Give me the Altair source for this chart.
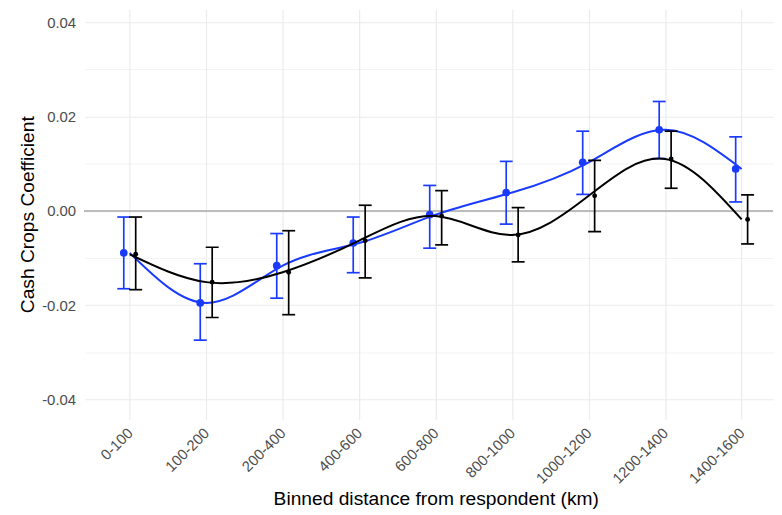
import altair as alt
import pandas as pd

categories = ["0-100", "100-200", "200-400", "400-600", "600-800",
              "800-1000", "1000-1200", "1200-1400", "1400-1600"]

blue_est = [-0.0089, -0.0195, -0.0116, -0.0068, -0.0008, 0.0039, 0.0103, 0.0172, 0.0089]
blue_lo = [-0.0165, -0.0274, -0.0185, -0.0131, -0.0079, -0.0028, 0.0035, 0.0111, 0.0019]
blue_hi = [-0.0013, -0.0112, -0.0048, -0.0013, 0.0054, 0.0105, 0.0169, 0.0232, 0.0157]

black_est = [-0.0092, -0.0151, -0.0130, -0.0063, -0.0011, -0.0051, 0.0032, 0.0110, -0.0018]
black_lo = [-0.0167, -0.0226, -0.0220, -0.0142, -0.0072, -0.0108, -0.0044, 0.0048, -0.0070]
black_hi = [-0.0013, -0.0077, -0.0042, 0.0012, 0.0043, 0.0007, 0.0107, 0.0169, 0.0034]

y_ticks = [-0.04, -0.03, -0.02, -0.01, 0.0, 0.01, 0.02, 0.03, 0.04]

rows = []
for i, c in enumerate(categories):
    rows.append({"bin": c, "series": "blue", "est": blue_est[i], "lo": blue_lo[i], "hi": blue_hi[i]})
    rows.append({"bin": c, "series": "black", "est": black_est[i], "lo": black_lo[i], "hi": black_hi[i]})
df = pd.DataFrame(rows)

BLUE = "#1a3bff"
BLACK = "#000000"
FONT = "Liberation Sans"

x_scale = alt.Scale(type="point", paddingOuter=0.511, align=0.59)
x_axis = alt.Axis(
    title="Binned distance from respondent (km)",
    labelAngle=-45, labelAlign="right", labelBaseline="middle",
    labelFontSize=15, labelColor="#4D4D4D", labelPadding=11,
    titleFontSize=19.3, titleFontWeight="normal", titleColor="#000000", titlePadding=3,
    titleX=353,
    ticks=False, domain=False, grid=True, gridColor="#EBEBEB", gridWidth=1.2,
    labelFont=FONT, titleFont=FONT,
)
y_scale = alt.Scale(domain=[-0.04415, 0.04274], nice=False, zero=False)
y_axis = alt.Axis(
    title="Cash Crops Coefficient",
    values=y_ticks,
    labelExpr="round(datum.value*100) % 2 == 0 ? (datum.value < 0 ? '-' + format(abs(datum.value), '.2f') : format(datum.value, '.2f')) : ''",
    labelFontSize=15, labelColor="#4D4D4D", labelPadding=9,
    titleFontSize=19.3, titleFontWeight="normal", titleColor="#000000", titlePadding=4,
    ticks=False, domain=False, grid=True, gridColor="#EBEBEB",
    gridWidth={"condition": {"test": "round(datum.value*100) % 2 == 0", "value": 1.2}, "value": 0.6},
    labelFont=FONT, titleFont=FONT,
)

X = alt.X("bin:N", sort=categories, scale=x_scale, axis=x_axis)

base = alt.Chart(df)

zero = base.mark_rule(color="#BDBDBD", strokeWidth=1.6).encode(
    y=alt.Y(datum=0, type="quantitative", scale=y_scale, axis=y_axis)
)

def series_layers(name, color, off, pt_size):
    d = base.transform_filter(alt.datum.series == name)
    Y = alt.Y("est:Q", scale=y_scale, axis=y_axis)
    line = d.mark_line(interpolate="natural", color=color, strokeWidth=2).encode(x=X, y=Y)
    bar = d.mark_rule(color=color, strokeWidth=1.7, xOffset=off).encode(
        x=X, y=alt.Y("lo:Q", scale=y_scale, axis=y_axis), y2="hi:Q")
    cap_lo = d.mark_tick(color=color, size=13, thickness=1.7, opacity=1, xOffset=off).encode(
        x=X, y=alt.Y("lo:Q", scale=y_scale, axis=y_axis))
    cap_hi = d.mark_tick(color=color, size=13, thickness=1.7, opacity=1, xOffset=off).encode(
        x=X, y=alt.Y("hi:Q", scale=y_scale, axis=y_axis))
    pts = d.mark_circle(color=color, size=pt_size, opacity=1, xOffset=off).encode(x=X, y=Y)
    return [line, bar, cap_lo, cap_hi, pts]

layers = [zero] + series_layers("blue", BLUE, -6, 60) + series_layers("black", BLACK, 6, 24)

chart = alt.layer(*layers).properties(
    width=692, height=412,
    padding={"left": 10, "top": 0, "right": 0, "bottom": 0},
    background="white",
).configure_view(stroke=None)

chart.save("out.html", embed_options={"renderer": "svg", "actions": False})
